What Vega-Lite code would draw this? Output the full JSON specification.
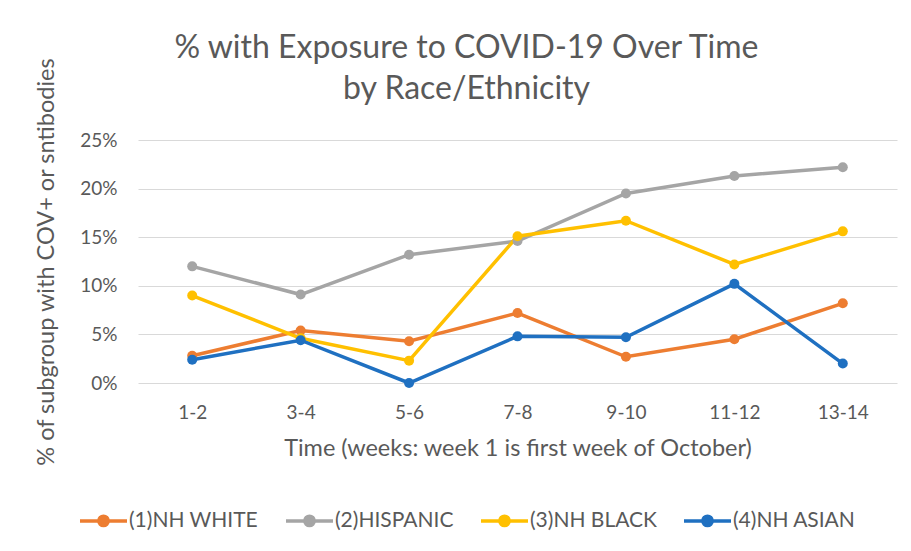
{
  "$schema": "https://vega.github.io/schema/vega-lite/v6.json",
  "width": 759,
  "height": 243,
  "autosize": {"type": "none"},
  "padding": {"left": 138, "top": 140, "right": 14, "bottom": 168},
  "background": "white",
  "title": {
    "text": ["% with Exposure to COVID-19 Over Time", "by Race/Ethnicity"],
    "font": "Lato",
    "fontSize": 32,
    "fontWeight": "normal",
    "color": "#595959",
    "lineHeight": 41,
    "anchor": "middle",
    "dx": -51,
    "dy": 79,
    "offset": 30
  },
  "data": {
    "values": [
      {"time": "1-2", "group": "(1)NH WHITE", "value": 0.028},
      {"time": "3-4", "group": "(1)NH WHITE", "value": 0.054},
      {"time": "5-6", "group": "(1)NH WHITE", "value": 0.043},
      {"time": "7-8", "group": "(1)NH WHITE", "value": 0.072},
      {"time": "9-10", "group": "(1)NH WHITE", "value": 0.027},
      {"time": "11-12", "group": "(1)NH WHITE", "value": 0.045},
      {"time": "13-14", "group": "(1)NH WHITE", "value": 0.082},
      {"time": "1-2", "group": "(2)HISPANIC", "value": 0.120},
      {"time": "3-4", "group": "(2)HISPANIC", "value": 0.091},
      {"time": "5-6", "group": "(2)HISPANIC", "value": 0.132},
      {"time": "7-8", "group": "(2)HISPANIC", "value": 0.146},
      {"time": "9-10", "group": "(2)HISPANIC", "value": 0.195},
      {"time": "11-12", "group": "(2)HISPANIC", "value": 0.213},
      {"time": "13-14", "group": "(2)HISPANIC", "value": 0.222},
      {"time": "1-2", "group": "(3)NH BLACK", "value": 0.090},
      {"time": "3-4", "group": "(3)NH BLACK", "value": 0.046},
      {"time": "5-6", "group": "(3)NH BLACK", "value": 0.023},
      {"time": "7-8", "group": "(3)NH BLACK", "value": 0.151},
      {"time": "9-10", "group": "(3)NH BLACK", "value": 0.167},
      {"time": "11-12", "group": "(3)NH BLACK", "value": 0.122},
      {"time": "13-14", "group": "(3)NH BLACK", "value": 0.156},
      {"time": "1-2", "group": "(4)NH ASIAN", "value": 0.024},
      {"time": "3-4", "group": "(4)NH ASIAN", "value": 0.044},
      {"time": "5-6", "group": "(4)NH ASIAN", "value": 0.000},
      {"time": "7-8", "group": "(4)NH ASIAN", "value": 0.048},
      {"time": "9-10", "group": "(4)NH ASIAN", "value": 0.047},
      {"time": "11-12", "group": "(4)NH ASIAN", "value": 0.102},
      {"time": "13-14", "group": "(4)NH ASIAN", "value": 0.020}
    ]
  },
  "mark": {"type": "line", "strokeWidth": 3.5, "point": {"filled": true, "size": 100}},
  "encoding": {
    "x": {
      "field": "time",
      "type": "ordinal",
      "sort": ["1-2", "3-4", "5-6", "7-8", "9-10", "11-12", "13-14"],
      "scale": {"type": "point", "padding": 0.5},
      "axis": {
        "title": "Time (weeks: week 1 is first week of October)",
        "labelAngle": 0,
        "labelFont": "Lato",
        "labelFontSize": 19,
        "labelColor": "#595959",
        "labelPadding": 20,
        "ticks": false,
        "domain": false,
        "grid": false,
        "titleFont": "Lato",
        "titleFontSize": 23.5,
        "titleFontWeight": "normal",
        "titleColor": "#595959",
        "titlePadding": 14
      }
    },
    "y": {
      "field": "value",
      "type": "quantitative",
      "scale": {"domain": [0, 0.25], "nice": false},
      "axis": {
        "title": "% of subgroup with COV+ or sntibodies",
        "values": [0, 0.05, 0.1, 0.15, 0.2, 0.25],
        "format": ".0%",
        "labelFont": "Lato",
        "labelFontSize": 19,
        "labelColor": "#595959",
        "labelPadding": 21,
        "ticks": false,
        "domain": false,
        "grid": true,
        "gridColor": "#d9d9d9",
        "gridWidth": 1,
        "titleFont": "Lato",
        "titleFontSize": 23.5,
        "titleFontWeight": "normal",
        "titleColor": "#595959",
        "titlePadding": 21
      }
    },
    "color": {
      "field": "group",
      "type": "nominal",
      "scale": {
        "domain": ["(1)NH WHITE", "(2)HISPANIC", "(3)NH BLACK", "(4)NH ASIAN"],
        "range": ["#ED7D31", "#A5A5A5", "#FFC000", "#1F70C1"]
      },
      "legend": {
        "orient": "none",
        "legendX": -60,
        "legendY": 355,
        "direction": "horizontal",
        "title": null,
        "padding": 0,
        "symbolType": "M-1,0L1,0M0.2,0A0.2,0.2,0,1,1,-0.2,0A0.2,0.2,0,1,1,0.2,0Z",
        "symbolSize": 2209,
        "symbolStrokeWidth": 3.5,
        "labelFont": "Lato",
        "labelFontSize": 21,
        "labelColor": "#595959",
        "labelOffset": 0,
        "labelLimit": 300,
        "columnPadding": 20,
        "encode": {
          "symbols": {"update": {"fill": {"scale": "color", "field": "value"}, "stroke": {"scale": "color", "field": "value"}}}
        }
      }
    }
  },
  "config": {"view": {"stroke": null}}
}
